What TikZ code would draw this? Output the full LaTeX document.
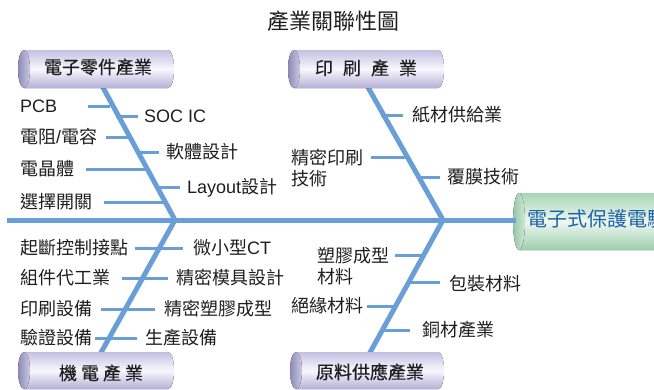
\documentclass[tikz,border=0pt]{standalone}
\usepackage{fontspec}
\setmainfont{Noto Sans CJK TC}
\newfontfamily\lat{Liberation Sans}
\newfontfamily\cylfont[FakeBold=0.4]{Noto Sans CJK TC}
\usetikzlibrary{calc}
\definecolor{bone}{RGB}{106,158,214}
\definecolor{cylTop}{RGB}{196,192,226}
\definecolor{cylMid}{RGB}{248,247,253}
\definecolor{cylBot}{RGB}{180,176,214}
\definecolor{cylFace}{RGB}{140,137,184}
\definecolor{grTop}{RGB}{168,214,182}
\definecolor{grMid}{RGB}{238,247,240}
\definecolor{grBot}{RGB}{156,206,172}
\definecolor{grFace}{RGB}{150,200,166}
\definecolor{txt}{RGB}{30,30,30}
\definecolor{effblue}{RGB}{28,98,168}
\newcommand\mycyl[8]{%
  \fill[top color=#5, bottom color=#7, middle color=#6]
    (#1,#3) -- (#2,#3) .. controls ({#2+8},#3) and ({#2+8},#4) .. (#2,#4) -- (#1,#4) -- cycle;
  \fill[left color=#8, right color=#8!45!white]
    (#1,{(#3+#4)/2}) ellipse [x radius=6, y radius={(#4-#3)/2}];
}
\begin{document}
\begin{tikzpicture}[x=1pt,y=-1pt,
  lbl/.style={anchor=west, inner sep=0pt, text=txt, font=\fontsize{18}{21}\selectfont, text height=15.8pt, text depth=2.2pt},
  lbltwo/.style={anchor=west, inner sep=0pt, text=txt, font=\fontsize{18}{21}\selectfont, align=left},
  cyltext/.style={inner sep=0pt, text=txt, font=\cylfont\fontsize{18}{21}\selectfont, text height=15.8pt, text depth=2.2pt},
  bonebig/.style={draw=bone, line width=5pt},
  rib/.style={draw=bone, line width=3pt}]
\useasboundingbox (0,0) rectangle (654,389);
\clip (0,0) rectangle (654,389);

% title
\node[inner sep=0pt, text=txt, font=\fontsize{22}{26}\selectfont] (title) at (333,21) {產業關聯性圖};

% key coordinates
\coordinate (spineL) at (7,220);
\coordinate (jL) at (175,220);
\coordinate (jR) at (443,220);
\coordinate (c1b) at (100,82);
\coordinate (c2b) at (365,82);
\coordinate (c3t) at (98,358);
\coordinate (c4t) at (367,358);

% branches
\draw[bonebig] (c1b) -- (jL) -- (c3t);
\draw[bonebig] (c2b) -- (jR) -- (c4t);

% cylinders
\mycyl{24}{168}{50}{88}{cylTop}{cylMid}{cylBot}{cylFace}
\mycyl{294}{438}{50}{88}{cylTop}{cylMid}{cylBot}{cylFace}
\mycyl{24}{168}{352}{389}{cylTop}{cylMid}{cylBot}{cylFace}
\mycyl{296}{438}{352}{389}{cylTop}{cylMid}{cylBot}{cylFace}
\mycyl{519}{700}{193}{250}{grTop}{grMid}{grBot}{grFace}

\node[cyltext] (c1) at (98,67) {電子零件產業};
\node[cyltext] (c2) at (366,68) {印\hspace{10pt}刷\hspace{10pt}產\hspace{10pt}業};
\node[cyltext] (c3) at (101,373) {機\hspace{4pt}電\hspace{4pt}產\hspace{4pt}業};
\node[cyltext] (c4) at (370,372) {原料供應產業};
\node[anchor=west, inner sep=0pt, text=effblue, font=\fontsize{20}{24}\selectfont, text height=17.6pt, text depth=2.4pt] (eff) at (527,219) {電子式保護電驛};

% main spine
\coordinate (spineR) at (516,220);
\draw[bonebig] (spineL) -- (spineR);

% ---- top-left ribs
\node[lbl] (pcb) at (20,106) {\lat PCB};
\coordinate (r1a) at (88,106);  \coordinate (r1b) at (110,106);
\draw[rib] (r1a) -- (r1b);
\node[lbl] (soc) at (144,116) {\lat SOC IC};
\coordinate (r2a) at (116,116); \coordinate (r2b) at (138,116);
\draw[rib] (r2a) -- (r2b);
\node[lbl] (rc) at (20,137) {電阻{\lat /}電容};
\coordinate (r3a) at (106,137); \coordinate (r3b) at (128,137);
\draw[rib] (r3a) -- (r3b);
\node[lbl] (sw) at (166,152) {軟體設計};
\coordinate (r4a) at (136,152); \coordinate (r4b) at (159,152);
\draw[rib] (r4a) -- (r4b);
\node[lbl] (tr) at (20,169) {電晶體};
\coordinate (r5a) at (86,169); \coordinate (r5b) at (146,169);
\draw[rib] (r5a) -- (r5b);
\node[lbl] (lay) at (187,187) {{\lat Layout}設計};
\coordinate (r6a) at (156,187); \coordinate (r6b) at (180,187);
\draw[rib] (r6a) -- (r6b);
\node[lbl] (sel) at (20,202) {選擇開關};
\coordinate (r7a) at (104,202); \coordinate (r7b) at (165,202);
\draw[rib] (r7a) -- (r7b);

% ---- top-right ribs
\node[lbl] (paper) at (412,115) {紙材供給業};
\coordinate (s1a) at (381,115); \coordinate (s1b) at (403,115);
\draw[rib] (s1a) -- (s1b);
\node[lbltwo] (prec) at (291,168) {精密印刷\\技術};
\coordinate (s2a) at (371,157); \coordinate (s2b) at (406,157);
\draw[rib] (s2a) -- (s2b);
\node[lbl] (film) at (447,177) {覆膜技術};
\coordinate (s3a) at (418,177); \coordinate (s3b) at (440,177);
\draw[rib] (s3a) -- (s3b);

% ---- bottom-left ribs
\node[lbl] (brk) at (20,248) {起斷控制接點};
\node[lbl] (ct) at (193,248) {微小型{\lat CT}};
\coordinate (t1a) at (135,248); \coordinate (t1b) at (183,248);
\draw[rib] (t1a) -- (t1b);
\node[lbl] (oem) at (20,278) {組件代工業};
\node[lbl] (mold) at (176,278) {精密模具設計};
\coordinate (t2a) at (122,278); \coordinate (t2b) at (168,278);
\draw[rib] (t2a) -- (t2b);
\node[lbl] (peq) at (20,309) {印刷設備};
\node[lbl] (pmold) at (164,309) {精密塑膠成型};
\coordinate (t3a) at (101,309); \coordinate (t3b) at (155,309);
\draw[rib] (t3a) -- (t3b);
\node[lbl] (veq) at (20,338) {驗證設備};
\node[lbl] (meq) at (145,338) {生產設備};
\coordinate (t4a) at (95,338); \coordinate (t4b) at (137,338);
\draw[rib] (t4a) -- (t4b);

% ---- bottom-right ribs
\node[lbltwo] (plast) at (317,266) {塑膠成型\\材料};
\coordinate (u1a) at (395,255); \coordinate (u1b) at (423,255);
\draw[rib] (u1a) -- (u1b);
\node[lbl] (pack) at (449,284) {包裝材料};
\coordinate (u2a) at (408,282); \coordinate (u2b) at (440,282);
\draw[rib] (u2a) -- (u2b);
\node[lbl] (ins) at (291,306) {絕緣材料};
\coordinate (u3a) at (367,306); \coordinate (u3b) at (394,306);
\draw[rib] (u3a) -- (u3b);
\node[lbl] (cu) at (422,330) {銅材產業};
\coordinate (u4a) at (380,330); \coordinate (u4b) at (410,330);
\draw[rib] (u4a) -- (u4b);
\end{tikzpicture}
\end{document}
